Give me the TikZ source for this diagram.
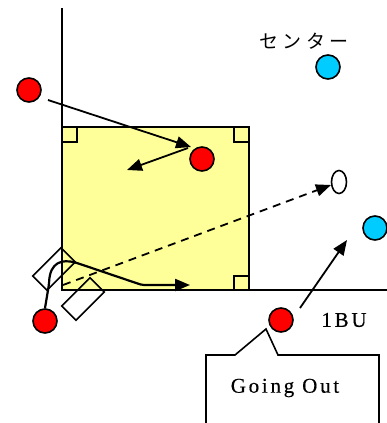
\documentclass[tikz,border=0pt]{standalone}
\usepackage{fontspec}
\setmainfont{Liberation Serif}
\newfontfamily\jpfont{Noto Sans CJK JP}
\usetikzlibrary{arrows.meta,shapes.geometric}
\definecolor{lotyellow}{HTML}{FFFF99}
\definecolor{ballred}{HTML}{FF0000}
\definecolor{ballblue}{HTML}{00CCFF}
\tikzset{
  ball/.style={shape=circle,draw,line width=1.6pt,minimum size=24pt,inner sep=0pt},
  redball/.style={ball,fill=ballred},
  blueball/.style={ball,fill=ballblue},
  carbox/.style={shape=rectangle,draw,line width=1.6pt,minimum width=40pt,minimum height=20pt,inner sep=0pt,rotate=45},
  cornermark/.style={draw,line width=1.6pt},
  move/.style={-{Triangle[length=15pt,width=12pt]},line width=1.8pt},
  label/.style={font=\fontsize{21}{21}\selectfont\addfontfeature{LetterSpace=13,FakeBold=0.4}},
}
\begin{document}
\begin{tikzpicture}[x=1pt,y=-1pt]
\useasboundingbox (0,0) rectangle (387,423);
% the lot
\fill[lotyellow] (62,127) rectangle (249,290);
\draw[line width=2pt] (62,127) rectangle (249,290);
\draw[line width=1.8pt] (62,8) -- (62,290) -- (387,290);
\draw[cornermark] (62,142) -- (77,142) -- (77,127);
\draw[cornermark] (234,127) -- (234,142) -- (249,142);
\draw[cornermark] (234,290) -- (234,276) -- (249,276);
% parked cars
\node(carA) [carbox] at (54,269) {};
\node(carB) [carbox] at (83,299) {};
% balls
\node(outside) [redball] at (29,90) {};
\node(inlot) [redball] at (202,159) {};
\node(start) [redball] at (45,321) {};
\node(leaving) [redball] at (281,320) {};
\node(center) [blueball] at (328,67) {};
\node(centertwo) [blueball] at (375,228) {};
\node(spot) [shape=ellipse,draw,line width=1.6pt,fill=white,minimum width=15pt,minimum height=23pt,inner sep=0pt] at (339,182) {};
% texts
\node(centerlabel) at (304,41) {\jpfont\fontsize{19}{19}\selectfont\addfontfeature{LetterSpace=22}センター};
\node(bulabel) [label] at (344,320) {1BU};
% moves
\coordinate(enter) at (48,100);
\coordinate(hit) at (191,147);
\coordinate(bounce) at (188,148);
\coordinate(back) at (127,170);
\coordinate(dashstart) at (63,285);
\coordinate(outstart) at (300,308);
\coordinate(outend) at (347,240);
\coordinate(park) at (190,285);
\draw[move] (enter) -- (hit);
\draw[move] (bounce) -- (back);
\draw[move,dash pattern=on 8pt off 6pt] (dashstart) -- (spot);
\draw[move] (outstart) -- (outend);
\draw[move,line width=2.2pt,rounded corners=2pt] (start.north) -- (49,284) .. controls (50,262) and (62,259) .. (77,263) -- (142,285) -- (park);
% callout
\draw[line width=1.6pt] (206,424) -- (206,355) -- (235,355) -- (266,329) -- (278,355) -- (379,355) -- (379,424);
\node(goingout) [label] at (285,388) {Going Out};
\end{tikzpicture}
\end{document}
